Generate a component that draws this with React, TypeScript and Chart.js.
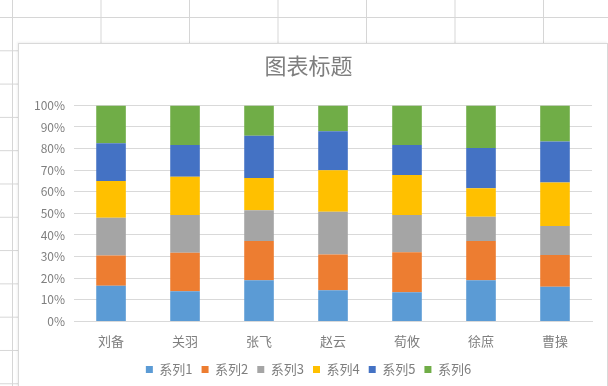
import React, { useEffect, useRef } from "react";
import { Chart, registerables } from "chart.js";

Chart.register(...registerables);

const categories = ["刘备", "关羽", "张飞", "赵云", "荀攸", "徐庶", "曹操"];
const seriesNames = ["系列1", "系列2", "系列3", "系列4", "系列5", "系列6"];
const series1 = [16.5, 14, 19, 14.4, 13.5, 19, 16];
const series2 = [14, 17.8, 18.2, 16.6, 18.5, 18.2, 14.7];
const series3 = [17.5, 17.5, 14.3, 19.8, 17.3, 11.2, 13.5];
const series4 = [17, 17.7, 14.9, 19.2, 18.5, 13.3, 20.1];
const series5 = [17.5, 14.7, 19.6, 18, 13.9, 18.6, 19];
const series6 = [17.5, 18.3, 14, 12, 18.3, 19.7, 16.7];
const yTicks = [0, 10, 20, 30, 40, 50, 60, 70, 80, 90, 100];
const titleText = "图表标题";

const colors = ["#5B9BD5", "#ED7D31", "#A5A5A5", "#FFC000", "#4472C4", "#70AD47"];
const FONT = '"Noto Sans CJK SC", "Liberation Sans", sans-serif';
const TEXT = "#7f7f7f";

export default function App() {
  const ref = useRef<HTMLCanvasElement | null>(null);

  useEffect(() => {
    document.body.style.margin = "0";
    const raw = [series1, series2, series3, series4, series5, series6];
    const totals = categories.map((_, i) => raw.reduce((s, arr) => s + arr[i], 0));
    const datasets = raw.map((arr, k) => ({
      label: seriesNames[k],
      data: arr.map((v, i) => (v / totals[i]) * 100),
      backgroundColor: colors[k],
      borderWidth: 0,
      categoryPercentage: 1,
      barPercentage: 0.4,
    }));
    const chart = new Chart(ref.current as HTMLCanvasElement, {
      type: "bar",
      data: { labels: categories, datasets },
      options: {
        animation: false,
        responsive: false,
        layout: { padding: { left: 6, right: 15, top: 0, bottom: 0 } },
        plugins: {
          title: {
            display: true,
            text: titleText,
            color: TEXT,
            font: { family: FONT, size: 22, weight: "normal" },
            padding: { top: 8, bottom: 27 },
          },
          legend: {
            position: "bottom",
            labels: {
              color: TEXT,
              font: { family: FONT, size: 13 },
              boxWidth: 7,
              boxHeight: 7,
              padding: 9,
            },
          },
          tooltip: { enabled: false },
        },
        scales: {
          x: {
            stacked: true,
            grid: { display: false, drawTicks: false },
            border: { display: true, color: "#d9d9d9" },
            ticks: { color: TEXT, font: { family: FONT, size: 13 }, padding: 12 },
            afterFit: (s: any) => {
              s.height -= 7;
            },
          },
          y: {
            stacked: true,
            min: 0,
            max: 100,
            afterBuildTicks: (axis: any) => {
              axis.ticks = yTicks.map((v) => ({ value: v }));
            },
            grid: { color: "#d9d9d9", drawTicks: false },
            border: { display: false },
            ticks: {
              color: TEXT,
              font: { family: FONT, size: 12 },
              padding: 9,
              callback: (v: any) => v + "%",
            },
          },
        },
      },
    });
    return () => chart.destroy();
  }, []);

  return (
    <div
      style={{
        position: "relative",
        width: 608,
        height: 386,
        overflow: "hidden",
        background: "#fff",
        backgroundImage:
          "linear-gradient(to right, #d6d6d6 1px, transparent 1px), linear-gradient(to bottom, #d6d6d6 1px, transparent 1px)",
        backgroundSize: "88.5px 33.3px",
        backgroundPosition: "12px 17px",
      }}
    >
      <div
        style={{
          position: "absolute",
          left: 18,
          top: 43,
          width: 588,
          height: 360,
          background: "#fff",
          border: "1px solid #d9d9d9",
          boxShadow: "-1px -1px 2px rgba(0,0,0,0.06)",
        }}
      >
        <canvas ref={ref} width={588} height={342} style={{ display: "block" }} />
      </div>
    </div>
  );
}
